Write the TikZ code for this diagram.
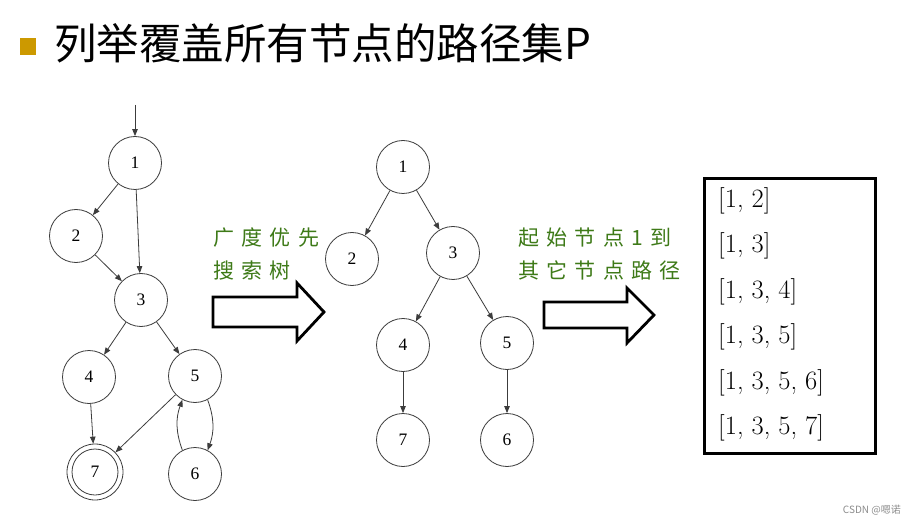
\documentclass[tikz,border=0pt]{standalone}
\usepackage{fontspec}
\usetikzlibrary{arrows.meta}
\newfontfamily\cjk{Noto Sans CJK SC}
\newfontfamily\gfont[LetterSpace=35]{Noto Sans CJK SC}
\newfontfamily\numfont{Liberation Serif}
\definecolor{gold}{RGB}{204,153,0}
\definecolor{leaf}{RGB}{62,122,24}
\definecolor{edgegray}{RGB}{60,60,60}
\begin{document}
\begin{tikzpicture}[x=1pt,y=-1pt,
  vert/.style={circle, draw=edgegray, line width=0.8pt, minimum size=53pt, inner sep=0pt, font=\numfont\fontsize{17.5}{17.5}\selectfont},
  link/.style={draw=edgegray, line width=0.8pt, -{Triangle[length=7pt,width=5.5pt]}},
  blockarrow/.style={draw=black, line width=2.8pt, fill=white, line join=miter},
  gtext/.style={anchor=west, inner sep=0pt, text=leaf, font=\gfont\fontsize{21}{21}\selectfont},
  pathtext/.style={anchor=west, inner sep=0pt, font=\fontsize{26.5}{26.5}\selectfont}]
\useasboundingbox (0,0) rectangle (917,526);
\fill[white] (0,0) rectangle (917,526);
% title
\fill[gold] (20,38) rectangle (36,55);
\node[anchor=west, inner sep=0pt, font=\cjk\fontsize{42.5}{42.5}\selectfont] (title) at (54,43) {列举覆盖所有节点的路径集P};
% left graph
\node[vert] (a1) at (135,163) {1};
\node[vert] (a2) at (76,236) {2};
\node[vert] (a3) at (141,300) {3};
\node[vert] (a4) at (89,377) {4};
\node[vert] (a5) at (195,376) {5};
\node[vert, minimum size=56pt] (a7) at (95,472) {7};
\draw[edgegray, line width=0.8pt] (a7.center) circle[radius=23];
\node[vert] (a6) at (195,474) {6};
\coordinate (start) at (135,105);
\draw[link] (start) -- (a1);
\draw[link] (a1) -- (a2);
\draw[link] (a1) -- (a3);
\draw[link] (a2) -- (a3);
\draw[link] (a3) -- (a4);
\draw[link] (a3) -- (a5);
\draw[link] (a4) -- (a7);
\draw[link] (a5) -- (a7);
\draw[link] (a5.-62) to[bend left=20] (a6.62);
\draw[link] (a6.118) to[bend left=20] (a5.-118);
% middle tree
\node[vert] (b1) at (403,167) {1};
\node[vert] (b2) at (352,259) {2};
\node[vert] (b3) at (453,253) {3};
\node[vert] (b4) at (403,345) {4};
\node[vert] (b5) at (507,343) {5};
\node[vert] (b7) at (403,440) {7};
\node[vert] (b6) at (507,440) {6};
\draw[link] (b1) -- (b2);
\draw[link] (b1) -- (b3);
\draw[link] (b3) -- (b4);
\draw[link] (b3) -- (b5);
\draw[link] (b4) -- (b7);
\draw[link] (b5) -- (b6);
% green labels
\node[gtext] (g1) at (213,238) {广度优先};
\node[gtext] (g2) at (213,271) {搜索树};
\node[gtext] (g3) at (518,238) {起始节点1到};
\node[gtext] (g4) at (518,270) {其它节点路径};
% block arrows
\draw[blockarrow] (213,297) -- (297,297) -- (297,283) -- (324,312) -- (297,341) -- (297,327) -- (213,327) -- cycle;
\draw[blockarrow] (544,302) -- (627,302) -- (627,288) -- (654,315) -- (627,343) -- (627,328) -- (544,328) -- cycle;
% path list
\node[draw, line width=3pt, minimum width=171pt, minimum height=274pt, inner sep=0pt] (list) at (789.5,316) {};
\node[pathtext] (p1) at (718,201) {[1, 2]};
\node[pathtext] (p2) at (718,246) {[1, 3]};
\node[pathtext] (p3) at (718,292) {[1, 3, 4]};
\node[pathtext] (p4) at (718,337) {[1, 3, 5]};
\node[pathtext] (p5) at (718,383) {[1, 3, 5, 6]};
\node[pathtext] (p6) at (718,428) {[1, 3, 5, 7]};
% watermark
\node[anchor=east, inner sep=0pt, text=black!45, font=\cjk\fontsize{10}{10}\selectfont] (wm) at (901,510) {CSDN @嗯诺};
\end{tikzpicture}
\end{document}
